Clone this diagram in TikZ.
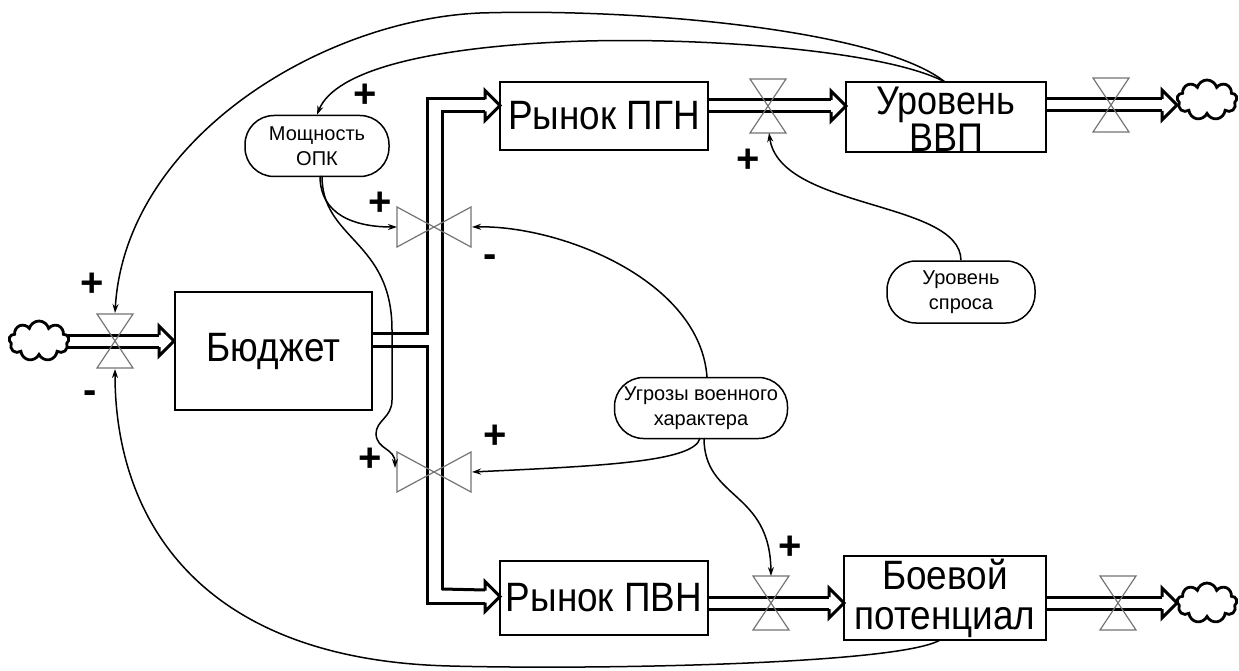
\documentclass[tikz,border=0pt]{standalone}
\usepackage{fontspec}
\setmainfont{Liberation Sans}
\newfontfamily\stockfont[FakeStretch=0.9]{Liberation Sans}
\usetikzlibrary{shapes.symbols,arrows.meta}
\begin{document}
\begin{tikzpicture}[x=1pt,y=-1pt,
  stock/.style={draw,line width=2.5pt,inner sep=0pt,align=center,
    font=\stockfont\fontsize{41}{40}\selectfont},
  aux/.style={draw,line width=1.5pt,inner sep=0pt,align=center,rounded corners=29pt,
    font=\fontsize{20}{25}\selectfont},
  pipe/.style={line width=3pt},
  valvestyle/.style={draw=black!55,line width=1.2pt,line join=miter},
  link/.style={line width=1.5pt,-{Stealth[length=9pt,width=6pt]}},
  sign/.style={font=\fontsize{40}{40}\bfseries\selectfont,inner sep=0pt},
  cloudstyle/.style={cloud,cloud puffs=9,aspect=1.6,draw,line width=2.8pt,
    minimum width=60pt,minimum height=40pt,inner sep=0pt},
  pipehead/.pic={\draw[pipe,line join=miter] (-15,-6) -- (-15,-15) -- (0,0) -- (-15,15) -- (-15,6);},
  vvalve/.pic={\draw[valvestyle] (-18,-27) -- (18,-27) -- (-18,27) -- (18,27) -- cycle;},
  hvalve/.pic={\draw[valvestyle] (-37,-20) -- (-37,20) -- (37,-20) -- (37,20) -- cycle;}
]
\useasboundingbox (0,0) rectangle (1239,671);

% stocks
\node[stock,minimum width=197pt,minimum height=118pt] (budget) at (273.5,351) {Бюджет};
\node[stock,minimum width=208pt,minimum height=68pt] (pgn) at (604,116) {Рынок ПГН};
\node[stock,minimum width=200pt,minimum height=70pt] (vvp) at (946,117) {};
\node[font=\stockfont\fontsize{40}{35}\selectfont,align=center,inner sep=0pt] (vvptext) at (946,119) {Уровень\\ВВП};
\node[stock,minimum width=208pt,minimum height=74pt] (pvn) at (604,598) {Рынок ПВН};
\node[stock,minimum width=202pt,minimum height=84pt] (boev) at (945,598) {Боевой\\потенциал};

% auxiliaries
\node[aux,minimum width=144pt,minimum height=61pt] (opk) at (317,146) {Мощность\\ОПК};
\node[aux,minimum width=148pt,minimum height=62pt] (spros) at (961,292) {Уровень\\спроса};
\node[aux,minimum width=173pt,minimum height=61pt] (ugroz) at (701,408) {Угрозы военного\\характера};

% clouds
\node[cloudstyle] (cloudL) at (39,341) {};
\node[cloudstyle] (cloudT) at (1207,100) {};
\node[cloudstyle] (cloudB) at (1207,603) {};

% valves
\coordinate (vL) at (115,341);
\coordinate (vPGN) at (768,106);
\coordinate (vVVP) at (1111,105);
\coordinate (vT) at (434,227);
\coordinate (vB) at (434,472);
\coordinate (vPVN) at (771,603);
\coordinate (vBOEV) at (1118,603);

% pipes
\draw[pipe] (68,335) -- (159,335) (68,347) -- (159,347);
\pic at (174,341) {pipehead};

\draw[pipe,line join=miter] (373,333) -- (427,333) -- (427,99) -- (485,99);
\draw[pipe,line join=miter] (442,590) -- (442,112) -- (485,112);
\pic at (500,105.5) {pipehead};
\draw[pipe,line join=miter] (373,346) -- (427,346) -- (427,603) -- (485,603);
\draw[pipe] (442,589) -- (485,590);
\pic at (500,596.5) {pipehead};

\draw[pipe] (708,100) -- (831,100) (708,112) -- (831,112);
\pic at (846,106) {pipehead};
\draw[pipe] (1046,99) -- (1162,99) (1046,111) -- (1162,111);
\pic at (1177,105) {pipehead};
\draw[pipe] (708,597) -- (829,597) (708,609) -- (829,609);
\pic at (844,603) {pipehead};
\draw[pipe] (1046,597) -- (1162,597) (1046,609) -- (1162,609);
\pic at (1177,603) {pipehead};

\pic at (vL) {vvalve};
\pic at (vPGN) {vvalve};
\pic at (vVVP) {vvalve};
\pic at (vPVN) {vvalve};
\pic at (vBOEV) {vvalve};
\pic at (vT) {hvalve};
\pic at (vB) {hvalve};

% connector end points on valves
\coordinate (vLtop) at (115,313);
\coordinate (vLbot) at (115,369);
\coordinate (vTleft) at (397,227);
\coordinate (vTright) at (472,227);
\coordinate (vBleft) at (395,468);
\coordinate (vBright) at (472,472);
\coordinate (vPGNbot) at (769,133);
\coordinate (vPVNtop) at (771,576);
\coordinate (vvpTop) at (945,82);

% connectors
\draw[link] (vvpTop) .. controls (880,30) and (640,8) .. (480,13)
  .. controls (320,20) and (125,140) .. (vLtop);
\draw[link] (vvpTop) .. controls (880,48) and (680,36) .. (560,42)
  .. controls (430,48) and (335,70) .. (opk.north);
\draw[link] (320,176) .. controls (320,215) and (355,227) .. (vTleft);
\draw[link] (322,176) .. controls (322,240) and (392,240) .. (392,330)
  -- (392,400) .. controls (392,418) and (376,420) .. (376,434)
  .. controls (377,450) and (395,448) .. (vBleft);
\draw[link] (707,377) .. controls (700,280) and (560,225) .. (vTright);
\draw[link] (700,438) .. controls (695,462) and (600,466) .. (vBright);
\draw[link] (704,438) .. controls (704,500) and (770,490) .. (vPVNtop);
\draw[link] (spros.north) .. controls (960,200) and (780,210) .. (vPGNbot);
\draw[link] (940,640) .. controls (900,664) and (600,670) .. (450,666)
  .. controls (200,660) and (115,520) .. (vLbot);

% signs
\node[sign] (s1) at (92,285) {+};
\node[sign] (s2) at (90,397) {-};
\node[sign] (s3) at (365,96) {+};
\node[sign] (s4) at (380,204) {+};
\node[sign] (s5) at (490,261) {-};
\node[sign] (s6) at (370,460) {+};
\node[sign] (s7) at (495,437) {+};
\node[sign] (s8) at (748,161) {+};
\node[sign] (s9) at (790,548) {+};
\end{tikzpicture}
\end{document}
